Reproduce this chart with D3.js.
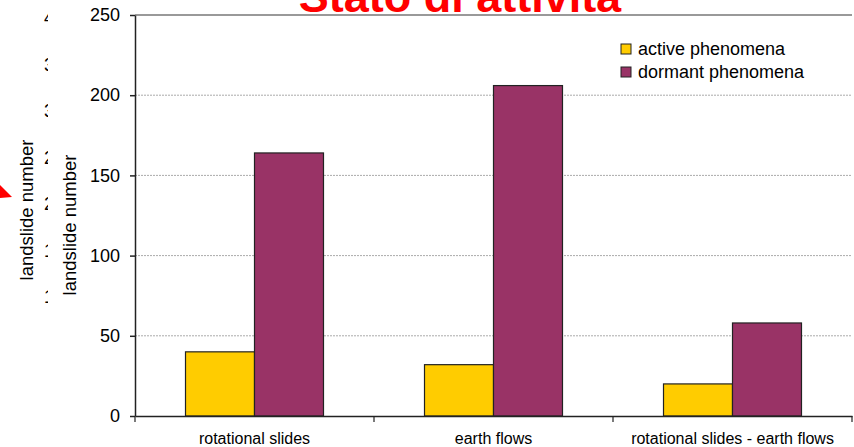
<!DOCTYPE html>
<html><head><meta charset="utf-8">
<script src="https://cdn.jsdelivr.net/npm/d3@7"></script>
<style>body{margin:0;background:#fff}svg{display:block;font-family:Arial,"Liberation Sans",sans-serif}</style>
</head><body><svg id="c" width="854" height="447"></svg>
<script>
const categories = ["rotational slides", "earth flows", "rotational slides - earth flows"];
const seriesNames = ["active phenomena", "dormant phenomena"];
const activeValues = [40, 32, 20];
const dormantValues = [164, 206, 58];
const yTicks = [0, 50, 100, 150, 200, 250];
const backTicks = [400, 350, 300, 250, 200, 150, 100];
const colors = ["#FFCC00", "#993366"];
const title = "Stato di attività";
const yTitle = "landslide number";

const svg = d3.select("#c");
const L = 135, R = 852, T = 15, B = 416;

// background (covered) chart fragments
const yBack = d3.scaleLinear().domain([100, 400]).range([297, 18]);
svg.append("defs").append("clipPath").attr("id", "backclip")
  .append("rect").attr("x", 0).attr("y", 0).attr("width", 48).attr("height", 447);
svg.append("g").attr("clip-path", "url(#backclip)")
  .selectAll("text").data(backTicks).join("text")
  .attr("x", 44).attr("y", d => yBack(d) + 6)
  .attr("font-size", 18).attr("fill", "#000").text(d => d);
svg.append("text").attr("transform", "translate(33,210) rotate(-90)")
  .attr("text-anchor", "middle").attr("font-size", 18.5).text(yTitle);
svg.append("polygon").attr("points", "0,185 0,198 12,197").attr("fill", "#ff0000");

// title (cropped at top, as in the reference)
svg.append("text").attr("x", 460).attr("y", 12).attr("text-anchor", "middle")
  .attr("font-size", 45).attr("font-weight", "bold").attr("fill", "#ff0000").text(title);

const x0 = d3.scaleBand().domain(categories).range([L, R]).paddingInner(0).paddingOuter(0);
const x1 = d3.scaleBand().domain(seriesNames).range([0, x0.bandwidth()]).paddingInner(0).paddingOuter(0.732);
const y = d3.scaleLinear().domain([0, 250]).range([B, T]);

// gridlines
svg.append("g").selectAll("line").data(yTicks.filter(d => d > 0 && d < 250)).join("line")
  .attr("x1", L).attr("x2", R).attr("y1", d => y(d)).attr("y2", d => y(d))
  .attr("stroke", "#aaa").attr("stroke-width", 1).attr("stroke-dasharray", "2,1");
svg.append("line").attr("x1", L).attr("x2", R).attr("y1", y(250)).attr("y2", y(250))
  .attr("stroke", "#999").attr("stroke-width", 2);

// bars
const data = categories.map((c, i) => ({cat: c, vals: [activeValues[i], dormantValues[i]]}));
const g = svg.append("g").selectAll("g").data(data).join("g")
  .attr("transform", d => `translate(${x0(d.cat)},0)`);
g.selectAll("rect").data(d => d.vals.map((v, j) => ({s: seriesNames[j], v, j}))).join("rect")
  .attr("x", d => x1(d.s)).attr("width", x1.bandwidth())
  .attr("y", d => y(d.v)).attr("height", d => B - y(d.v))
  .attr("fill", d => colors[d.j]).attr("stroke", "#222").attr("stroke-width", 1.2);

// y axis
const ya = svg.append("g").attr("transform", `translate(${L},0)`)
  .call(d3.axisLeft(y).tickValues(yTicks).tickSize(5).tickSizeOuter(0).tickPadding(10));
ya.selectAll("text").attr("font-size", 18).attr("fill", "#000").attr("font-family", "Arial, Liberation Sans, sans-serif");
ya.selectAll("line, path").attr("stroke", "#222").attr("stroke-width", 1.5);

// x axis
const xa = svg.append("g").attr("transform", `translate(0,${B})`)
  .call(d3.axisBottom(x0).tickSize(0).tickPadding(17));
xa.selectAll("text").attr("font-size", 16).attr("fill", "#000").attr("font-family", "Arial, Liberation Sans, sans-serif");
xa.select("path").attr("stroke", "#222").attr("stroke-width", 1.5);
const sep = [L, ...categories.map(c => x0(c) + x0.bandwidth())];
svg.append("g").selectAll("line").data(sep).join("line")
  .attr("x1", d => d).attr("x2", d => d).attr("y1", B).attr("y2", B + 6)
  .attr("stroke", "#222").attr("stroke-width", 1.2);

// second y title
svg.append("text").attr("transform", "translate(76,225) rotate(-90)")
  .attr("text-anchor", "middle").attr("font-size", 18.5).text(yTitle);

// legend
const lg = svg.append("g").selectAll("g").data(seriesNames).join("g")
  .attr("transform", (d, i) => `translate(621,${44 + i * 23})`);
lg.append("rect").attr("width", 10).attr("height", 10)
  .attr("fill", (d, i) => colors[i]).attr("stroke", "#222").attr("stroke-width", 1);
lg.append("text").attr("x", 17).attr("y", 11).attr("font-size", 18).text(d => d);
</script></body></html>
